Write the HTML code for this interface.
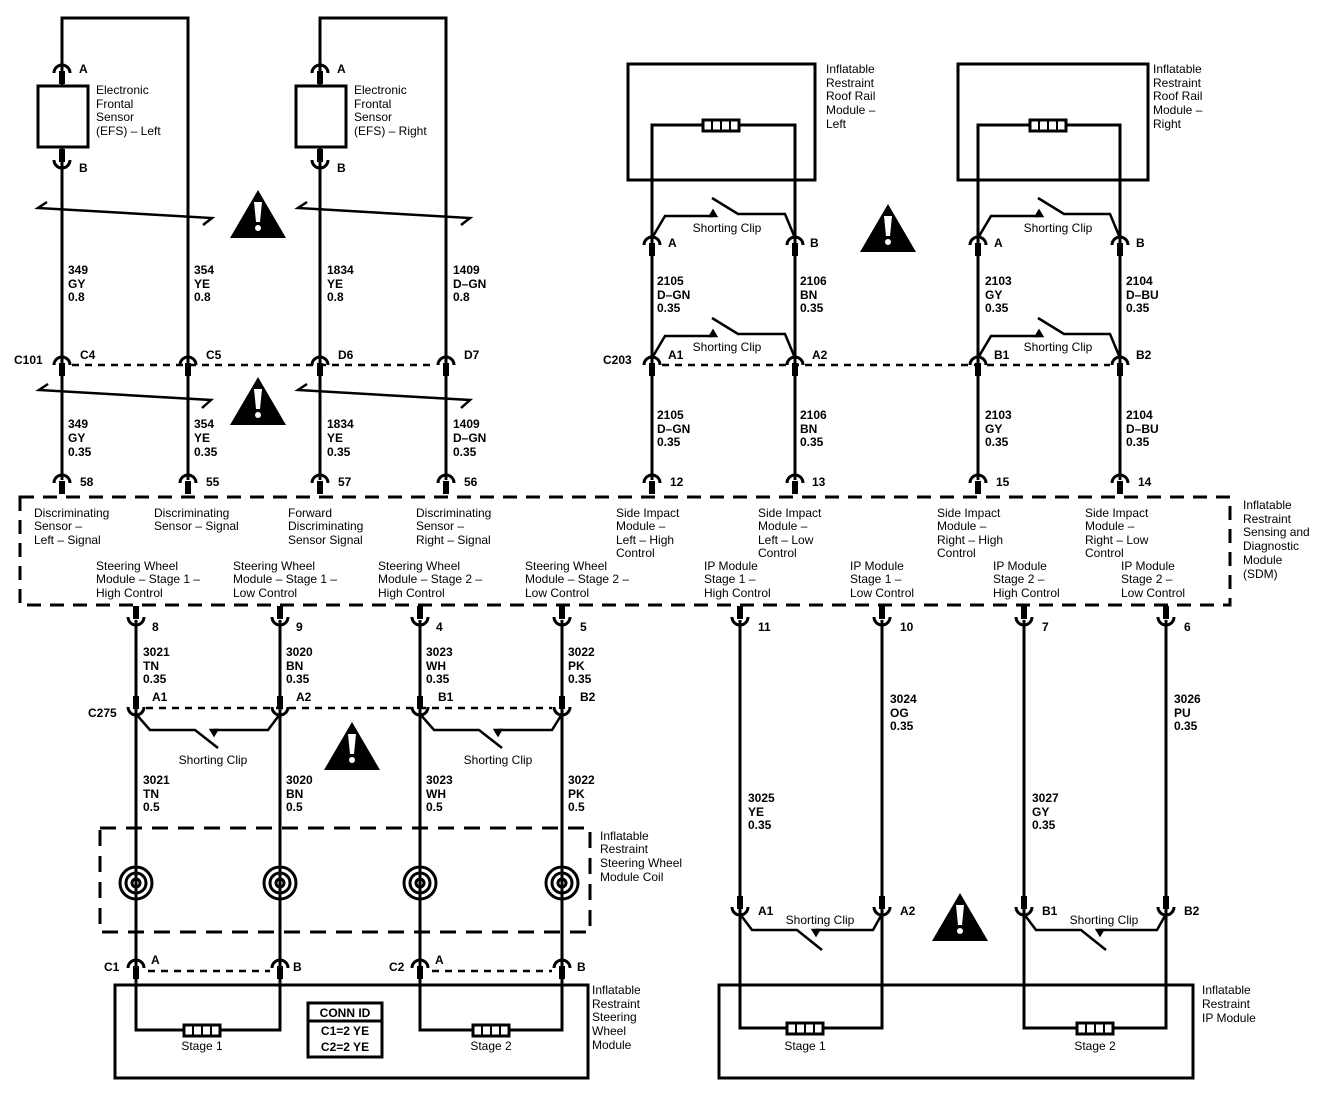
<!DOCTYPE html>
<html><head><meta charset="utf-8"><style>
html,body{margin:0;padding:0;background:#fff}
svg{display:block}
text{font-family:"Liberation Sans",sans-serif;font-size:12px;fill:#000}
.b{font-weight:bold}
</style></head><body>
<svg width="1344" height="1102" viewBox="0 0 1344 1102" xmlns="http://www.w3.org/2000/svg">
<defs>
<g id="cap"><path d="M-8,5 A8,8 0 0 1 8,5" fill="none" stroke="#000" stroke-width="3"/><rect x="-3" y="3" width="6" height="13" fill="#000"/></g>
<g id="cup"><path d="M-8,-5 A8,8 0 0 0 8,-5" fill="none" stroke="#000" stroke-width="3"/><rect x="-3" y="-16" width="6" height="13" fill="#000"/></g>
<g id="warn"><polygon points="0,0 28,48 -28,48" fill="#000"/><path d="M-4,12 L4,12 L2,32 L-2,32 Z" fill="#fff"/><circle cx="0" cy="38" r="3" fill="#fff"/></g>
<g id="res"><rect x="0" y="-5" width="36" height="11" fill="#fff" stroke="#000" stroke-width="3"/><line x1="9" y1="-5" x2="9" y2="6" stroke="#000" stroke-width="2"/><line x1="18" y1="-5" x2="18" y2="6" stroke="#000" stroke-width="2"/><line x1="27" y1="-5" x2="27" y2="6" stroke="#000" stroke-width="2"/></g>
<g id="coil" fill="none" stroke="#000" stroke-width="3"><circle r="16"/><circle r="10"/><circle r="4"/></g>
</defs>
<g stroke="#000" stroke-width="3" fill="none">
<path d="M62,86 V18 H188 V480"/><path d="M62,147 V480"/>
<path d="M320,86 V18 H446 V480"/><path d="M320,147 V480"/>
<rect x="38" y="86" width="50" height="61"/><rect x="296" y="86" width="50" height="61"/>
<path d="M47,202 L38,208 L212,218 L203,225" stroke-width="2.5"/>
<path d="M307,202 L298,208 L470,218 L461,225" stroke-width="2.5"/>
<path d="M48,384 L39,390 L211,400 L202,408" stroke-width="2.5"/>
<path d="M307,384 L298,390 L470,400 L461,408" stroke-width="2.5"/>
<rect x="628" y="64" width="187" height="116"/><rect x="958" y="64" width="190" height="116"/>
<path d="M652,480 V125 H795 V480"/><path d="M978,480 V125 H1120 V480"/>
<rect x="20" y="497" width="1210" height="108" stroke-dasharray="14 9"/>
<path d="M136,620 V1030 H280 V620"/><path d="M420,620 V1030 H562 V620"/>
<rect x="100" y="828" width="490" height="104" stroke-dasharray="16 10"/>
<rect x="115" y="985" width="473" height="93"/>
<rect x="308" y="1003" width="74" height="54"/><line x1="308" y1="1021" x2="382" y2="1021"/>
<path d="M740,620 V1028 H882 V620"/><path d="M1024,620 V1028 H1166 V620"/>
<rect x="719" y="985" width="474" height="93"/>
</g>
<g stroke="#000" stroke-width="2.5" stroke-dasharray="7 6" fill="none">
<line x1="72" y1="365" x2="436" y2="365"/>
<line x1="662" y1="365" x2="1110" y2="365"/>
<line x1="146" y1="708" x2="552" y2="708"/>
<line x1="148" y1="971" x2="270" y2="971"/><line x1="432" y1="971" x2="552" y2="971"/>
</g>
<g stroke="#000" stroke-width="2.5" fill="none">
<path d="M652,238 L665,216 H713"/><path d="M712,198 L738,214 H785 L795,238"/><path d="M710,216 l3,-5 l3,5z" fill="#000"/>
<path d="M978,238 L991,216 H1039"/><path d="M1038,198 L1064,214 H1110 L1120,238"/><path d="M1036,216 l3,-5 l3,5z" fill="#000"/>
<path d="M652,358 L665,336 H713"/><path d="M712,318 L738,334 H785 L795,358"/><path d="M710,336 l3,-5 l3,5z" fill="#000"/>
<path d="M978,358 L991,336 H1039"/><path d="M1038,318 L1064,334 H1110 L1120,358"/><path d="M1036,336 l3,-5 l3,5z" fill="#000"/>
<path d="M136,714 L150,730 H195 L218,748"/><path d="M214,730 H268 L280,714"/><path d="M211,730 l3,5 l3,-5z" fill="#000"/>
<path d="M420,714 L434,730 H479 L502,748"/><path d="M498,730 H552 L562,714"/><path d="M495,730 l3,5 l3,-5z" fill="#000"/>
<path d="M740,914 L752,930 H797 L822,950"/><path d="M816,930 H873 L882,914"/><path d="M813,930 l3,5 l3,-5z" fill="#000"/>
<path d="M1024,914 L1036,930 H1081 L1106,950"/><path d="M1100,930 H1157 L1166,914"/><path d="M1097,930 l3,5 l3,-5z" fill="#000"/>
</g>
<use href="#cap" x="62" y="68"/><use href="#cap" x="320" y="68"/>
<use href="#cup" x="62" y="165"/><use href="#cup" x="320" y="165"/>
<use href="#cap" x="62" y="360"/><use href="#cap" x="188" y="360"/><use href="#cap" x="320" y="360"/><use href="#cap" x="446" y="360"/>
<use href="#cap" x="652" y="240"/><use href="#cap" x="795" y="240"/><use href="#cap" x="978" y="240"/><use href="#cap" x="1120" y="240"/>
<use href="#cap" x="652" y="360"/><use href="#cap" x="795" y="360"/><use href="#cap" x="978" y="360"/><use href="#cap" x="1120" y="360"/>
<use href="#cap" x="62" y="478"/><use href="#cap" x="188" y="478"/><use href="#cap" x="320" y="478"/><use href="#cap" x="446" y="478"/>
<use href="#cap" x="652" y="478"/><use href="#cap" x="795" y="478"/><use href="#cap" x="978" y="478"/><use href="#cap" x="1120" y="478"/>
<use href="#cup" x="136" y="622"/><use href="#cup" x="280" y="622"/><use href="#cup" x="420" y="622"/><use href="#cup" x="562" y="622"/>
<use href="#cup" x="740" y="622"/><use href="#cup" x="882" y="622"/><use href="#cup" x="1024" y="622"/><use href="#cup" x="1166" y="622"/>
<use href="#cup" x="136" y="712"/><use href="#cup" x="280" y="712"/><use href="#cup" x="420" y="712"/><use href="#cup" x="562" y="712"/>
<use href="#cup" x="740" y="912"/><use href="#cup" x="882" y="912"/><use href="#cup" x="1024" y="912"/><use href="#cup" x="1166" y="912"/>
<use href="#cap" x="136" y="963"/><use href="#cap" x="280" y="963"/><use href="#cap" x="420" y="963"/><use href="#cap" x="562" y="963"/>
<use href="#coil" x="136" y="883"/><use href="#coil" x="280" y="883"/><use href="#coil" x="420" y="883"/><use href="#coil" x="562" y="883"/>
<use href="#res" x="703" y="125"/><use href="#res" x="1030" y="125"/>
<use href="#res" x="184" y="1030"/><use href="#res" x="473" y="1030"/>
<use href="#res" x="787" y="1028"/><use href="#res" x="1077" y="1028"/>
<use href="#warn" x="258" y="190"/><use href="#warn" x="258" y="377"/><use href="#warn" x="888" y="204"/>
<use href="#warn" x="352" y="722"/><use href="#warn" x="960" y="893"/>
<text x="96" y="94">Electronic</text><text x="96" y="108">Frontal</text><text x="96" y="121">Sensor</text><text x="96" y="135">(EFS) – Left</text>
<text x="354" y="94">Electronic</text><text x="354" y="108">Frontal</text><text x="354" y="121">Sensor</text><text x="354" y="135">(EFS) – Right</text>
<g class="b">
<text x="79" y="73">A</text><text x="79" y="172">B</text><text x="337" y="73">A</text><text x="337" y="172">B</text>
<text x="68" y="274">349</text><text x="68" y="288">GY</text><text x="68" y="301">0.8</text>
<text x="194" y="274">354</text><text x="194" y="288">YE</text><text x="194" y="301">0.8</text>
<text x="327" y="274">1834</text><text x="327" y="288">YE</text><text x="327" y="301">0.8</text>
<text x="453" y="274">1409</text><text x="453" y="288">D–GN</text><text x="453" y="301">0.8</text>
<text x="68" y="428">349</text><text x="68" y="442">GY</text><text x="68" y="456">0.35</text>
<text x="194" y="428">354</text><text x="194" y="442">YE</text><text x="194" y="456">0.35</text>
<text x="327" y="428">1834</text><text x="327" y="442">YE</text><text x="327" y="456">0.35</text>
<text x="453" y="428">1409</text><text x="453" y="442">D–GN</text><text x="453" y="456">0.35</text>
<text x="14" y="364">C101</text><text x="80" y="359">C4</text><text x="206" y="359">C5</text><text x="338" y="359">D6</text><text x="464" y="359">D7</text>
<text x="80" y="486">58</text><text x="206" y="486">55</text><text x="338" y="486">57</text><text x="464" y="486">56</text>
<text x="670" y="486">12</text><text x="812" y="486">13</text><text x="996" y="486">15</text><text x="1138" y="486">14</text>
<text x="668" y="247">A</text><text x="810" y="247">B</text><text x="994" y="247">A</text><text x="1136" y="247">B</text>
<text x="603" y="364">C203</text><text x="668" y="359">A1</text><text x="812" y="359">A2</text><text x="994" y="359">B1</text><text x="1136" y="359">B2</text>
<text x="657" y="285">2105</text><text x="657" y="299">D–GN</text><text x="657" y="312">0.35</text>
<text x="800" y="285">2106</text><text x="800" y="299">BN</text><text x="800" y="312">0.35</text>
<text x="985" y="285">2103</text><text x="985" y="299">GY</text><text x="985" y="312">0.35</text>
<text x="1126" y="285">2104</text><text x="1126" y="299">D–BU</text><text x="1126" y="312">0.35</text>
<text x="657" y="419">2105</text><text x="657" y="433">D–GN</text><text x="657" y="446">0.35</text>
<text x="800" y="419">2106</text><text x="800" y="433">BN</text><text x="800" y="446">0.35</text>
<text x="985" y="419">2103</text><text x="985" y="433">GY</text><text x="985" y="446">0.35</text>
<text x="1126" y="419">2104</text><text x="1126" y="433">D–BU</text><text x="1126" y="446">0.35</text>
<text x="152" y="631">8</text><text x="296" y="631">9</text><text x="436" y="631">4</text><text x="580" y="631">5</text>
<text x="758" y="631">11</text><text x="900" y="631">10</text><text x="1042" y="631">7</text><text x="1184" y="631">6</text>
<text x="143" y="656">3021</text><text x="143" y="670">TN</text><text x="143" y="683">0.35</text>
<text x="286" y="656">3020</text><text x="286" y="670">BN</text><text x="286" y="683">0.35</text>
<text x="426" y="656">3023</text><text x="426" y="670">WH</text><text x="426" y="683">0.35</text>
<text x="568" y="656">3022</text><text x="568" y="670">PK</text><text x="568" y="683">0.35</text>
<text x="88" y="717">C275</text><text x="152" y="701">A1</text><text x="296" y="701">A2</text><text x="438" y="701">B1</text><text x="580" y="701">B2</text>
<text x="143" y="784">3021</text><text x="143" y="798">TN</text><text x="143" y="811">0.5</text>
<text x="286" y="784">3020</text><text x="286" y="798">BN</text><text x="286" y="811">0.5</text>
<text x="426" y="784">3023</text><text x="426" y="798">WH</text><text x="426" y="811">0.5</text>
<text x="568" y="784">3022</text><text x="568" y="798">PK</text><text x="568" y="811">0.5</text>
<text x="748" y="802">3025</text><text x="748" y="816">YE</text><text x="748" y="829">0.35</text>
<text x="890" y="703">3024</text><text x="890" y="717">OG</text><text x="890" y="730">0.35</text>
<text x="1032" y="802">3027</text><text x="1032" y="816">GY</text><text x="1032" y="829">0.35</text>
<text x="1174" y="703">3026</text><text x="1174" y="717">PU</text><text x="1174" y="730">0.35</text>
<text x="758" y="915">A1</text><text x="900" y="915">A2</text><text x="1042" y="915">B1</text><text x="1184" y="915">B2</text>
<text x="104" y="971">C1</text><text x="151" y="964">A</text><text x="293" y="971">B</text>
<text x="389" y="971">C2</text><text x="435" y="964">A</text><text x="577" y="971">B</text>
<text x="345" y="1017" text-anchor="middle">CONN ID</text>
<text x="345" y="1035" text-anchor="middle">C1=2 YE</text><text x="345" y="1051" text-anchor="middle">C2=2 YE</text>
</g>
<text x="826" y="73">Inflatable</text><text x="826" y="87">Restraint</text><text x="826" y="100">Roof Rail</text><text x="826" y="114">Module –</text><text x="826" y="128">Left</text>
<text x="1153" y="73">Inflatable</text><text x="1153" y="87">Restraint</text><text x="1153" y="100">Roof Rail</text><text x="1153" y="114">Module –</text><text x="1153" y="128">Right</text>
<text x="727" y="232" text-anchor="middle">Shorting Clip</text><text x="1058" y="232" text-anchor="middle">Shorting Clip</text>
<text x="727" y="351" text-anchor="middle">Shorting Clip</text><text x="1058" y="351" text-anchor="middle">Shorting Clip</text>
<text x="213" y="764" text-anchor="middle">Shorting Clip</text><text x="498" y="764" text-anchor="middle">Shorting Clip</text>
<text x="820" y="924" text-anchor="middle">Shorting Clip</text><text x="1104" y="924" text-anchor="middle">Shorting Clip</text>
<text x="34" y="517">Discriminating</text><text x="34" y="530">Sensor –</text><text x="34" y="544">Left – Signal</text>
<text x="154" y="517">Discriminating</text><text x="154" y="530">Sensor – Signal</text>
<text x="288" y="517">Forward</text><text x="288" y="530">Discriminating</text><text x="288" y="544">Sensor Signal</text>
<text x="416" y="517">Discriminating</text><text x="416" y="530">Sensor –</text><text x="416" y="544">Right – Signal</text>
<text x="616" y="517">Side Impact</text><text x="616" y="530">Module –</text><text x="616" y="544">Left – High</text><text x="616" y="557">Control</text>
<text x="758" y="517">Side Impact</text><text x="758" y="530">Module –</text><text x="758" y="544">Left – Low</text><text x="758" y="557">Control</text>
<text x="937" y="517">Side Impact</text><text x="937" y="530">Module –</text><text x="937" y="544">Right – High</text><text x="937" y="557">Control</text>
<text x="1085" y="517">Side Impact</text><text x="1085" y="530">Module –</text><text x="1085" y="544">Right – Low</text><text x="1085" y="557">Control</text>
<text x="96" y="570">Steering Wheel</text><text x="96" y="583">Module – Stage 1 –</text><text x="96" y="597">High Control</text>
<text x="233" y="570">Steering Wheel</text><text x="233" y="583">Module – Stage 1 –</text><text x="233" y="597">Low Control</text>
<text x="378" y="570">Steering Wheel</text><text x="378" y="583">Module – Stage 2 –</text><text x="378" y="597">High Control</text>
<text x="525" y="570">Steering Wheel</text><text x="525" y="583">Module – Stage 2 –</text><text x="525" y="597">Low Control</text>
<text x="704" y="570">IP Module</text><text x="704" y="583">Stage 1 –</text><text x="704" y="597">High Control</text>
<text x="850" y="570">IP Module</text><text x="850" y="583">Stage 1 –</text><text x="850" y="597">Low Control</text>
<text x="993" y="570">IP Module</text><text x="993" y="583">Stage 2 –</text><text x="993" y="597">High Control</text>
<text x="1121" y="570">IP Module</text><text x="1121" y="583">Stage 2 –</text><text x="1121" y="597">Low Control</text>
<text x="1243" y="509">Inflatable</text><text x="1243" y="523">Restraint</text><text x="1243" y="536">Sensing and</text><text x="1243" y="550">Diagnostic</text><text x="1243" y="564">Module</text><text x="1243" y="578">(SDM)</text>
<text x="600" y="840">Inflatable</text><text x="600" y="853">Restraint</text><text x="600" y="867">Steering Wheel</text><text x="600" y="881">Module Coil</text>
<text x="592" y="994">Inflatable</text><text x="592" y="1008">Restraint</text><text x="592" y="1021">Steering</text><text x="592" y="1035">Wheel</text><text x="592" y="1049">Module</text>
<text x="1202" y="994">Inflatable</text><text x="1202" y="1008">Restraint</text><text x="1202" y="1022">IP Module</text>
<text x="202" y="1050" text-anchor="middle">Stage 1</text><text x="491" y="1050" text-anchor="middle">Stage 2</text>
<text x="805" y="1050" text-anchor="middle">Stage 1</text><text x="1095" y="1050" text-anchor="middle">Stage 2</text>
</svg>
</body></html>
